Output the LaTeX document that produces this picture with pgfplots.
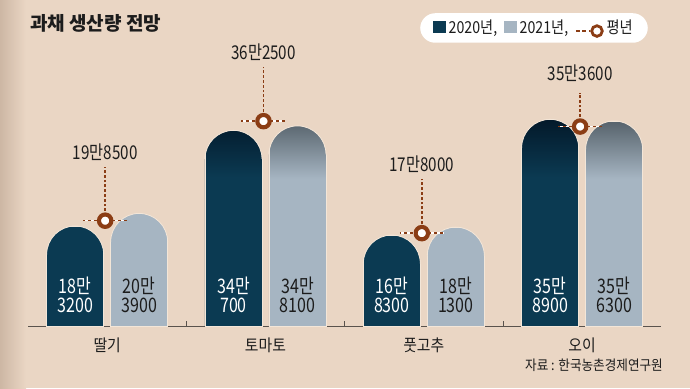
\documentclass[border=0pt]{standalone}
\usepackage{fontspec}
\setmainfont{Noto Sans CJK KR}
\newfontfamily\krc{Noto Sans CJK KR}[FakeStretch=0.80]
\newfontfamily\krl{Noto Sans CJK KR}[FakeStretch=0.86]
\newfontfamily\krm{Noto Sans CJK KR}[FakeStretch=0.90]
\usepackage{pgfplots}
\pgfplotsset{compat=1.18}

\definecolor{bg}{HTML}{EAD6C4}
\definecolor{bgdark}{HTML}{CDB7A4}
\definecolor{cA}{HTML}{0B3A52}
\definecolor{cAtop}{HTML}{03192A}
\definecolor{cB}{HTML}{A6B5C2}
\definecolor{cBtop}{HTML}{56626B}
\definecolor{brn}{HTML}{8B3D15}
\definecolor{rim}{HTML}{F3E6D8}
\definecolor{txt}{HTML}{1C1C1C}
\definecolor{axisc}{HTML}{5A534D}

\pgfdeclareverticalshading{barA}{100bp}{color(0bp)=(cA); color(25bp)=(cA); color(61bp)=(cA); color(75bp)=(cAtop); color(100bp)=(cAtop)}
\pgfdeclareverticalshading{barB}{100bp}{color(0bp)=(cB); color(25bp)=(cB); color(61bp)=(cB); color(75bp)=(cBtop); color(100bp)=(cBtop)}

% mask that turns the square top of a bar into a half disc
\pgfdeclareplotmark{dome}{%
  \pgfpathmoveto{\pgfqpoint{-29.8pt}{-28.5pt}}%
  \pgfpathlineto{\pgfqpoint{-29.8pt}{1.4pt}}%
  \pgfpathlineto{\pgfqpoint{29.8pt}{1.4pt}}%
  \pgfpathlineto{\pgfqpoint{29.8pt}{-28.5pt}}%
  \pgfpathlineto{\pgfqpoint{28.5pt}{-28.5pt}}%
  \pgfpatharc{0}{180}{28.5pt}%
  \pgfpathclose
  \pgfusepathqfill
  \pgfpathmoveto{\pgfqpoint{28.5pt}{-28.5pt}}%
  \pgfpatharc{0}{180}{28.5pt}%
  \pgfusepathqstroke
}

\pgfkeys{/tikz/avglen/.store in=\avglen, /tikz/avglen=54pt}
\pgfdeclareplotmark{avg}{%
  \pgfsetlinewidth{1.4pt}%
  \pgfsetdash{{2.8pt}{2pt}}{0pt}%
  \pgfsetstrokecolor{brn}%
  \pgfpathmoveto{\pgfqpoint{0pt}{0pt}}%
  \pgfpathlineto{\pgfpoint{0pt}{\avglen}}%
  \pgfusepathqstroke
  \pgfsetdash{}{0pt}%
  \pgfsetstrokecolor{white}%
  \pgfsetlinewidth{1.5pt}%
  \pgfpathmoveto{\pgfqpoint{-22pt}{0pt}}%
  \pgfpathlineto{\pgfqpoint{22pt}{0pt}}%
  \pgfusepathqstroke
  \pgfsetstrokecolor{brn}%
  \pgfsetdash{{3pt}{3pt}}{1.5pt}%
  \pgfpathmoveto{\pgfqpoint{-22pt}{0pt}}%
  \pgfpathlineto{\pgfqpoint{22pt}{0pt}}%
  \pgfusepathqstroke
  \pgfsetdash{}{0pt}%
  \pgfsetlinewidth{4.1pt}%
  \pgfsetstrokecolor{brn}\pgfsetfillcolor{white}%
  \pgfpathcircle{\pgfpointorigin}{6.2pt}%
  \pgfusepathqfillstroke
}

\pgfplotstableread{
x y
0 183200
1 340700
2 168300
3 358900
}\dataA
\pgfplotstableread{
x y
0 203900
1 348100
2 181300
3 356300
}\dataB

\begin{document}
\begin{tikzpicture}[x=1pt,y=1pt]
\useasboundingbox (0,0) rectangle (690,388);
\fill[bg] (0,0) rectangle (690,388);
\shade[left color=bgdark, right color=bg] (0,0) rectangle (26,388);
\node[anchor=west, inner sep=0pt, font=\fontsize{19}{19}\selectfont\bfseries, text=txt] at (30,365) {과채 생산량 전망};
\node[anchor=east, inner sep=0pt, font=\krm\fontsize{14}{14}\selectfont, text=txt] at (663,23) {자료 : 한국농촌경제연구원};
\begin{axis}[
  at={(28pt,61.3pt)}, anchor=south west,
  scale only axis, width=633.3pt, height=300pt,
  xmin=-0.5, xmax=3.5, ymin=17300, ymax=511500,
  axis x line=bottom, axis y line=none,
  x axis line style={-, draw=axisc, line width=1pt},
  xtick={0,1,2,3}, xticklabels={딸기,토마토,풋고추,오이},
  major tick length=0pt, xtick align=inside,
  extra x ticks={0.5,1.5,2.5}, extra x tick labels={},
  extra x tick style={major tick length=6pt, xtick align=inside, tick style={draw=axisc, line width=0.8pt}},
  xticklabel style={font=\krm\fontsize{16.5}{16.5}\selectfont, text=txt, yshift=-8pt},
  legend columns=3,
  legend style={draw=none, fill=white, rounded corners=15pt,
    at={(axis description cs:0.799,0.9957)}, anchor=center,
    font=\krl\fontsize{16.5}{16.5}\selectfont, text=txt,
    inner xsep=13pt, inner ysep=5pt,
    /tikz/every odd column/.append style={column sep=1pt},
    /tikz/every even column/.append style={column sep=5pt}},
  legend cell align=left,
]
\addplot[ybar, mark=none, bar width=57pt, bar shift=-32pt, shading=barA, draw=rim, line width=0.8pt,
  legend image code/.code={\pgfsetcornersarced{\pgfpointorigin}\pgfsetfillcolor{cA}\pgfpathrectangle{\pgfqpoint{0pt}{-5.5pt}}{\pgfqpoint{12.5pt}{12.5pt}}\pgfusepath{fill}}]
  table[x=x,y=y] {\dataA};
\addlegendentry{2020년,}
\addplot[ybar, mark=none, bar width=57pt, bar shift=32pt, shading=barB, draw=rim, line width=0.8pt,
  legend image code/.code={\pgfsetcornersarced{\pgfpointorigin}\pgfsetfillcolor{cB}\pgfpathrectangle{\pgfqpoint{0pt}{-5.5pt}}{\pgfqpoint{12.5pt}{12.5pt}}\pgfusepath{fill}}]
  table[x=x,y=y] {\dataB};
\addlegendentry{2021년,}
\addplot[forget plot, only marks, mark=dome, xshift=-32pt, mark options={fill=bg, draw=rim, line width=0.8pt}]
  table[x=x,y=y] {\dataA};
\addplot[forget plot, only marks, mark=dome, xshift=32pt, mark options={fill=bg, draw=rim, line width=0.8pt}]
  table[x=x,y=y] {\dataB};
% value labels inside bars
\addplot[forget plot, draw=none, mark=none, nodes near coords, point meta=explicit symbolic,
  nodes near coords style={anchor=center, xshift=-32pt, align=center, text=white,
    font=\krc\fontsize{20}{18.5}\selectfont}]
  coordinates {(0,69500) [18만\\3200] (1,69500) [34만\\700] (2,69500) [16만\\8300] (3,69500) [35만\\8900]};
\addplot[forget plot, draw=none, mark=none, nodes near coords, point meta=explicit symbolic,
  nodes near coords style={anchor=center, xshift=32pt, align=center, text=txt,
    font=\krc\fontsize{20}{18.5}\selectfont}]
  coordinates {(0,69500) [20만\\3900] (1,69500) [34만\\8100] (2,69500) [18만\\1300] (3,69500) [35만\\6300]};
% average
\addplot[only marks, mark=avg, xshift=-2pt, yshift=-4pt, mark options={avglen=54pt},
  nodes near coords, point meta=explicit symbolic,
  nodes near coords style={anchor=center, yshift=68.5pt, text=txt, font=\krc\fontsize{19}{19}\selectfont},
  legend image code/.code={%
    \pgfsetcornersarced{\pgfpointorigin}%
    \pgfsetlinewidth{1.5pt}\pgfsetstrokecolor{brn}\pgfsetdash{{4pt}{2.5pt}}{0pt}%
    \pgfpathmoveto{\pgfqpoint{0pt}{0.75pt}}\pgfpathlineto{\pgfqpoint{14pt}{0.75pt}}\pgfusepath{stroke}%
    \pgfsetdash{}{0pt}\pgfsetlinewidth{2.8pt}\pgfsetfillcolor{white}%
    \pgfpathcircle{\pgfqpoint{21pt}{0.75pt}}{5.3pt}\pgfusepath{fill,stroke}}]
  coordinates {(0,198500) [19만8500] (1,362500) [36만2500] (2,178000) [17만8000]};
\addlegendentry{평년}
\addplot[forget plot, only marks, mark=avg, xshift=-2pt, yshift=-4pt, mark options={avglen=34pt},
  nodes near coords, point meta=explicit symbolic,
  nodes near coords style={anchor=center, yshift=53pt, text=txt, font=\krc\fontsize{19}{19}\selectfont}]
  coordinates {(3,353600) [35만3600]};
\end{axis}
\end{tikzpicture}
\end{document}
